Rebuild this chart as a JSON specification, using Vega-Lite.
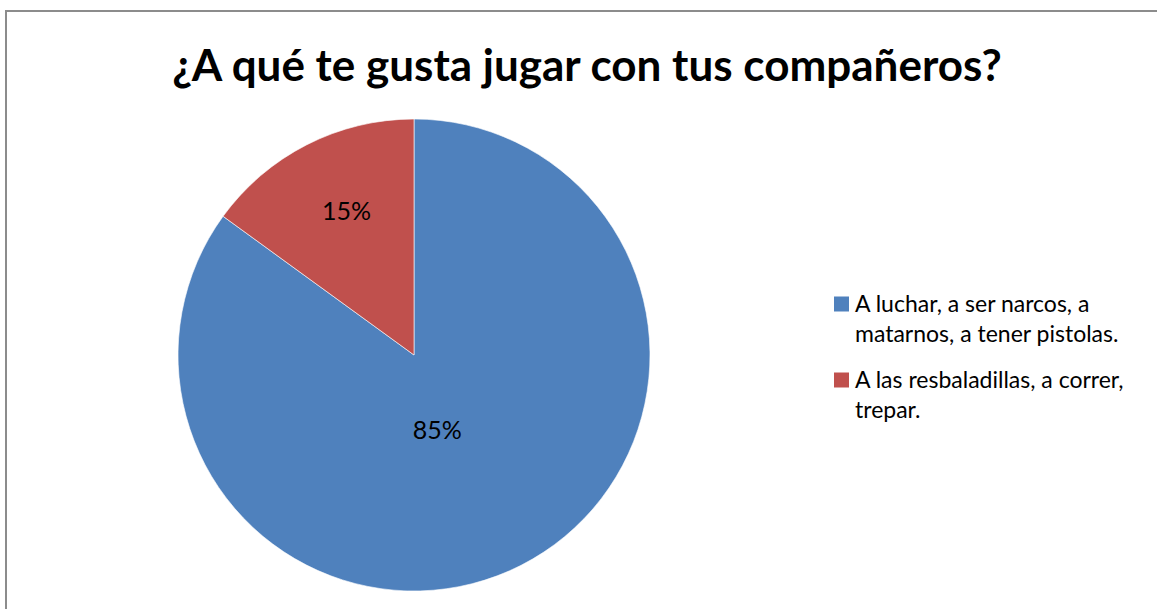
{
  "$schema": "https://vega.github.io/schema/vega-lite/v6.json",
  "autosize": "none",
  "width": 1200,
  "height": 650,
  "padding": {"left": 6, "top": 11, "right": 0, "bottom": 0},
  "background": "white",
  "config": {
    "view": {"stroke": "#8c8c8c", "strokeWidth": 2},
    "font": "Lato",
    "style": {"guide-label": {"lineHeight": 30}}
  },
  "title": {
    "text": "¿A qué te gusta jugar con tus compañeros?",
    "font": "Lato",
    "fontSize": 44,
    "fontWeight": "bold",
    "color": "black",
    "anchor": "middle",
    "frame": "group",
    "offset": 0,
    "baseline": "alphabetic",
    "dx": -19,
    "dy": 114
  },
  "data": {
    "values": [
      {"categoria": "A luchar, a ser narcos, a matarnos, a tener pistolas.", "valor": 85, "etiqueta": "85%"},
      {"categoria": "A las resbaladillas, a correr, trepar.", "valor": 15, "etiqueta": "15%"}
    ]
  },
  "encoding": {
    "theta": {"field": "valor", "type": "quantitative", "stack": true},
    "order": {"field": "valor", "type": "quantitative", "sort": "descending"},
    "x": {"value": 408},
    "y": {"value": 344}
  },
  "layer": [
    {
      "mark": {"type": "arc", "radius": 236, "stroke": "white", "strokeWidth": 0.6},
      "encoding": {
        "color": {
          "field": "categoria",
          "type": "nominal",
          "scale": {
            "domain": ["A luchar, a ser narcos, a matarnos, a tener pistolas.", "A las resbaladillas, a correr, trepar."],
            "range": ["#4F81BD", "#C0504D"]
          },
          "legend": {
            "title": null,
            "orient": "none",
            "legendX": 824,
            "legendY": 289,
            "symbolType": "M-1,-2H1V0H-1Z",
            "symbolSize": 225,
            "symbolStrokeWidth": 0,
            "labelFont": "Lato",
            "labelFontSize": 23,
            "labelColor": "black",
            "labelLimit": 400,
            "labelOffset": 2,
            "labelBaseline": "alphabetic",
            "rowPadding": 22,
            "labelExpr": "datum.label == 'A luchar, a ser narcos, a matarnos, a tener pistolas.' ? ['A luchar, a ser narcos, a', 'matarnos, a tener pistolas.'] : ['A las resbaladillas, a correr,', 'trepar.']"
          }
        }
      }
    },
    {
      "mark": {"type": "text", "radius": 80, "dx": -13, "dy": 5, "font": "Lato", "fontSize": 25, "color": "black", "baseline": "middle"},
      "encoding": {"text": {"condition": {"test": "datum.valor > 50", "field": "etiqueta"}, "value": ""}}
    },
    {
      "mark": {"type": "text", "radius": 155, "dx": 3, "dy": -5, "font": "Lato", "fontSize": 25, "color": "black", "baseline": "middle"},
      "encoding": {"text": {"condition": {"test": "datum.valor <= 50", "field": "etiqueta"}, "value": ""}}
    }
  ]
}
